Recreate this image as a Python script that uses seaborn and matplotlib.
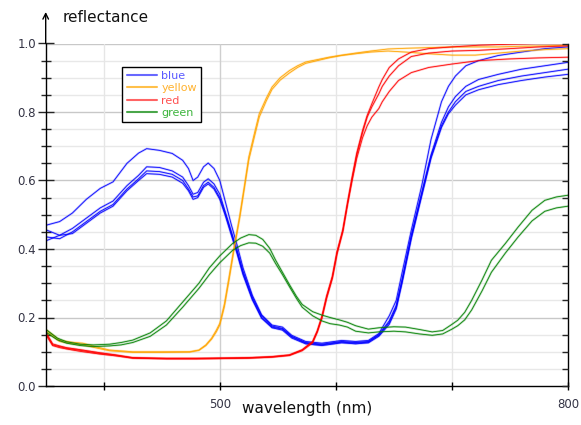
import numpy as np
import pandas as pd
import matplotlib
matplotlib.use("Agg")
import matplotlib.pyplot as plt
from matplotlib.lines import Line2D
from matplotlib.ticker import MultipleLocator, FixedLocator
import seaborn as sns

# ---------------- data ----------------
wl_blue = [351, 362, 373, 385, 397, 408, 420, 430, 437, 448, 459, 468, 473, 477, 481,
           486, 490, 495, 500, 505, 510, 515, 520, 528, 536, 545, 554, 562, 574, 588,
           605, 617, 628, 637, 646, 652, 657, 665, 674, 682, 691, 697, 703, 712, 723,
           740, 760, 780, 800]
blue_a = [0.470, 0.480, 0.505, 0.545, 0.577, 0.596, 0.650, 0.680, 0.693, 0.688, 0.679, 0.659, 0.635, 0.600, 0.610,
          0.640, 0.651, 0.635, 0.600, 0.535, 0.470, 0.410, 0.345, 0.265, 0.208, 0.178, 0.172, 0.148, 0.130, 0.125,
          0.133, 0.130, 0.133, 0.153, 0.205, 0.250, 0.330, 0.455, 0.585, 0.720, 0.830, 0.875, 0.905, 0.935, 0.950,
          0.965, 0.975, 0.985, 0.990]
blue_b = [0.455, 0.440, 0.460, 0.490, 0.520, 0.540, 0.585, 0.615, 0.640, 0.638, 0.628, 0.610, 0.585, 0.560, 0.565,
          0.595, 0.605, 0.590, 0.560, 0.505, 0.450, 0.395, 0.335, 0.260, 0.205, 0.175, 0.168, 0.145, 0.127, 0.122,
          0.130, 0.127, 0.130, 0.150, 0.190, 0.235, 0.310, 0.440, 0.565, 0.675, 0.770, 0.815, 0.845, 0.875, 0.895,
          0.910, 0.925, 0.935, 0.945]
blue_c = [0.435, 0.430, 0.450, 0.480, 0.510, 0.530, 0.575, 0.605, 0.628, 0.626, 0.618, 0.600, 0.575, 0.552, 0.555,
          0.585, 0.595, 0.580, 0.550, 0.500, 0.445, 0.390, 0.330, 0.255, 0.200, 0.172, 0.166, 0.143, 0.125, 0.120,
          0.128, 0.125, 0.128, 0.148, 0.185, 0.230, 0.305, 0.435, 0.560, 0.670, 0.760, 0.800, 0.830, 0.860, 0.875,
          0.892, 0.905, 0.915, 0.925]
blue_d = [0.425, 0.440, 0.445, 0.475, 0.505, 0.525, 0.570, 0.600, 0.620, 0.618, 0.610, 0.592, 0.570, 0.545, 0.550,
          0.580, 0.590, 0.575, 0.545, 0.495, 0.440, 0.385, 0.325, 0.252, 0.198, 0.170, 0.163, 0.140, 0.123, 0.118,
          0.126, 0.123, 0.126, 0.145, 0.180, 0.225, 0.300, 0.430, 0.555, 0.665, 0.755, 0.795, 0.820, 0.850, 0.865,
          0.880, 0.892, 0.902, 0.910]

wl_yellow = [351, 362, 372, 382, 395, 405, 425, 450, 474, 482, 488, 493, 497, 500, 504, 508, 512, 517, 521, 525,
             530, 534, 540, 545, 552, 560, 567, 574, 584, 594, 605, 617, 630, 645, 660, 680, 700, 720, 740, 760,
             780, 800]
yellow_a = [0.163, 0.134, 0.128, 0.125, 0.113, 0.105, 0.100, 0.100, 0.100, 0.105, 0.120, 0.140, 0.163, 0.183, 0.240,
            0.319, 0.400, 0.494, 0.580, 0.669, 0.740, 0.795, 0.840, 0.873, 0.900, 0.921, 0.935, 0.946, 0.953, 0.960,
            0.966, 0.972, 0.978, 0.984, 0.986, 0.988, 0.990, 0.990, 0.990, 0.992, 0.993, 0.995]
yellow_b = [0.158, 0.130, 0.124, 0.120, 0.110, 0.103, 0.098, 0.098, 0.099, 0.104, 0.118, 0.137, 0.158, 0.178, 0.232,
            0.310, 0.392, 0.487, 0.573, 0.660, 0.730, 0.785, 0.832, 0.866, 0.893, 0.914, 0.930, 0.942, 0.950, 0.958,
            0.965, 0.970, 0.975, 0.978, 0.975, 0.970, 0.966, 0.966, 0.972, 0.978, 0.982, 0.985]

wl_red = [351, 356, 362, 368, 380, 397, 410, 425, 454, 480, 525, 545, 560, 571, 580, 584, 588, 592, 597, 601,
          606, 610, 614, 618, 623, 627, 631, 637, 640, 646, 654, 665, 680, 700, 723, 750, 775, 800]
red_a = [0.149, 0.120, 0.115, 0.110, 0.104, 0.095, 0.090, 0.082, 0.080, 0.080, 0.082, 0.085, 0.090, 0.105, 0.129,
         0.160, 0.202, 0.260, 0.319, 0.390, 0.455, 0.535, 0.610, 0.680, 0.746, 0.790, 0.824, 0.873, 0.895, 0.930,
         0.955, 0.975, 0.985, 0.990, 0.995, 0.998, 1.000, 1.000]
red_b = [0.145, 0.118, 0.112, 0.108, 0.101, 0.093, 0.088, 0.081, 0.079, 0.079, 0.081, 0.084, 0.089, 0.103, 0.126,
         0.157, 0.198, 0.255, 0.314, 0.385, 0.450, 0.530, 0.605, 0.675, 0.740, 0.785, 0.815, 0.853, 0.875, 0.905,
         0.935, 0.962, 0.972, 0.978, 0.980, 0.985, 0.990, 0.993]
red_c = [0.152, 0.123, 0.117, 0.112, 0.106, 0.097, 0.091, 0.083, 0.081, 0.081, 0.083, 0.086, 0.091, 0.106, 0.130,
         0.161, 0.203, 0.262, 0.320, 0.392, 0.455, 0.530, 0.600, 0.665, 0.725, 0.760, 0.785, 0.810, 0.830, 0.860,
         0.892, 0.915, 0.930, 0.940, 0.950, 0.955, 0.958, 0.960]

wl_green = [351, 360, 368, 380, 391, 405, 415, 425, 440, 454, 468, 482, 491, 500, 511, 518, 525, 531, 537, 543,
            548, 554, 560, 566, 571, 580, 588, 595, 603, 610, 617, 628, 637, 650, 660, 672, 683, 692, 700, 705,
            711, 717, 726, 734, 746, 757, 769, 780, 790, 800]
green_a = [0.163, 0.140, 0.129, 0.122, 0.120, 0.122, 0.127, 0.134, 0.155, 0.190, 0.245, 0.300, 0.345, 0.380, 0.416,
           0.432, 0.442, 0.440, 0.428, 0.402, 0.368, 0.332, 0.296, 0.262, 0.238, 0.217, 0.207, 0.200, 0.193, 0.186,
           0.176, 0.166, 0.170, 0.173, 0.172, 0.165, 0.158, 0.162, 0.180, 0.192, 0.215, 0.250, 0.310, 0.367, 0.416,
           0.464, 0.513, 0.542, 0.552, 0.557]
green_b = [0.155, 0.135, 0.125, 0.118, 0.115, 0.117, 0.120, 0.127, 0.145, 0.178, 0.230, 0.285, 0.325, 0.360, 0.396,
           0.410, 0.418, 0.417, 0.408, 0.388, 0.358, 0.325, 0.290, 0.256, 0.230, 0.205, 0.190, 0.182, 0.178, 0.172,
           0.160, 0.155, 0.158, 0.160, 0.158, 0.152, 0.148, 0.152, 0.166, 0.176, 0.193, 0.222, 0.278, 0.332, 0.388,
           0.435, 0.482, 0.510, 0.520, 0.525]

series = [
    ("blue", wl_blue, [blue_a, blue_b, blue_c, blue_d]),
    ("yellow", wl_yellow, [yellow_a, yellow_b]),
    ("red", wl_red, [red_a, red_b, red_c]),
    ("green", wl_green, [green_a, green_b]),
]

rows = []
for name, wl, reps in series:
    for i, vals in enumerate(reps):
        for w, v in zip(wl, vals):
            rows.append((name, f"{name}{i}", w, v))
df = pd.DataFrame(rows, columns=["sample", "rep", "wavelength", "reflectance"])

line_colors = {"blue": "#0000ff", "yellow": "#ffa500", "red": "#ff0000", "green": "#008000"}
legend_line = {"blue": "#6868ff", "yellow": "#ffc04a", "red": "#ff6464", "green": "#4aa64a"}
legend_text = {"blue": "#5a5aff", "yellow": "#ffb22e", "red": "#ff5050", "green": "#3cb43c"}

# ---------------- figure ----------------
sns.set_style("white")
plt.rcParams["font.family"] = ["DejaVu Sans"]

W, H = 581, 425
fig = plt.figure(figsize=(W / 100, H / 100), dpi=100)
L, R, B, T = 45.7, 568.0, 386.0, 43.5
ax = fig.add_axes([L / W, 1 - B / H, (R - L) / W, (B - T) / H])

for name, _, _ in series:
    sub = df[df["sample"] == name]
    sns.lineplot(data=sub, x="wavelength", y="reflectance", units="rep", estimator=None,
                 color=line_colors[name], lw=1.6, alpha=0.25, ax=ax, legend=False)
    sns.lineplot(data=sub, x="wavelength", y="reflectance", units="rep", estimator=None,
                 color=line_colors[name], lw=0.6, alpha=0.95, ax=ax, legend=False)

ax.set_xlim(350, 800)
ax.set_ylim(0, 1.0)

# grid
for y in np.arange(0.05, 1.0001, 0.05):
    major = abs(y / 0.2 - round(y / 0.2)) < 1e-6
    ax.axhline(y, color="#c8c8c8" if major else "#e8e8e8", lw=1.0, zorder=0)
for x, c in [(400, "#e6e6e6"), (500, "#cfcfcf"), (600, "#e6e6e6"), (700, "#e6e6e6")]:
    ax.axvline(x, color=c, lw=1.0, zorder=0)

# spines
ax.spines["top"].set_visible(False)
for s in ["left", "bottom", "right"]:
    ax.spines[s].set_visible(True)
    ax.spines[s].set_color("black")
    ax.spines[s].set_linewidth(1.0)

# ticks
ax.xaxis.set_major_locator(FixedLocator([500, 800]))
ax.xaxis.set_minor_locator(FixedLocator([400, 600, 700]))
ax.yaxis.set_major_locator(MultipleLocator(0.2))
ax.yaxis.set_minor_locator(MultipleLocator(0.05))
ax.yaxis.set_major_formatter(matplotlib.ticker.FormatStrFormatter("%.1f"))
ax.tick_params(axis="x", which="both", direction="inout", length=6, width=1, colors="black",
               labelcolor="#333344", labelsize=8.5, pad=6, bottom=True)
ax.tick_params(axis="y", which="major", direction="inout", length=12, width=1, left=True,
               labelcolor="#333344", labelsize=8.5, pad=1)
ax.tick_params(axis="y", which="minor", direction="inout", length=7, width=1, left=True)
ax.tick_params(axis="y", which="both", right=False, labelright=False)

# right-side inward ticks
ax2 = ax.twinx()
ax2.set_ylim(ax.get_ylim())
ax2.yaxis.set_major_locator(MultipleLocator(0.05))
ax2.yaxis.set_minor_locator(matplotlib.ticker.NullLocator())
ax2.tick_params(axis="y", direction="in", length=4, width=1, labelright=False)
for s in ax2.spines.values():
    s.set_visible(False)

# labels
ax.set_xlabel("wavelength (nm)", fontsize=11, color="#111111")
ax.xaxis.set_label_coords(0.5, -0.045)
ax.set_ylabel("reflectance", fontsize=11, rotation=0, ha="left", va="center", color="#111111")
ax.yaxis.set_label_coords(0.033, 1.077)

# y-axis arrow
ax.annotate("", xy=(L / W, 1 - 12 / H), xytext=(L / W, 1 - T / H), xycoords="figure fraction",
            textcoords="figure fraction",
            arrowprops=dict(arrowstyle="->", lw=1.0, color="black", mutation_scale=10, shrinkA=0, shrinkB=0))

# legend
handles = [Line2D([0], [0], color=legend_line[n], lw=1.5) for n, _, _ in series]
leg = ax.legend(handles, [n for n, _, _ in series], loc="upper left",
                bbox_to_anchor=((122.3 - L) / (R - L), (B - 66.7) / (B - T)), borderaxespad=0,
                fontsize=8, frameon=True, fancybox=False, edgecolor="black", framealpha=1,
                handlelength=2.7, handletextpad=0.4, labelspacing=0.2, borderpad=0.4)
leg.get_frame().set_linewidth(1.0)
for t, (n, _, _) in zip(leg.get_texts(), series):
    t.set_color(legend_text[n])

fig.savefig("out.png", dpi=100)
